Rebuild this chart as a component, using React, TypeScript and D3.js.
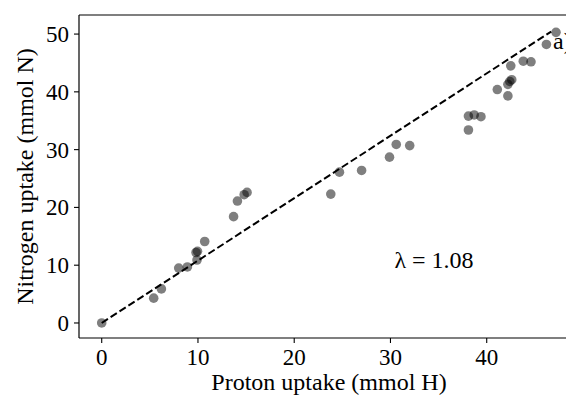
import React from "react";
import * as d3 from "d3";

const protonUptake = [0, 5.4, 6.2, 8.0, 8.9, 9.9, 9.8, 9.95, 10.7, 13.7, 14.1, 14.8, 15.1, 23.8, 24.7, 27.0, 29.9, 30.6, 32.0, 38.1, 38.1, 38.7, 39.4, 41.1, 42.2, 42.2, 42.4, 42.6, 42.5, 43.8, 44.6, 46.2, 47.2];
const nitrogenUptake = [0, 4.3, 5.9, 9.5, 9.7, 10.9, 12.2, 12.4, 14.1, 18.4, 21.1, 22.2, 22.6, 22.3, 26.1, 26.4, 28.7, 30.9, 30.7, 33.4, 35.8, 36.0, 35.7, 40.4, 39.3, 41.3, 41.8, 42.1, 44.5, 45.3, 45.2, 48.2, 50.3];
const xTicks = [0, 10, 20, 30, 40];
const yTicks = [0, 10, 20, 30, 40, 50];
const lambda = 1.08;
const lineEndX = 46.7;
const xLabel = "Proton uptake (mmol H)";
const yLabel = "Nitrogen uptake (mmol N)";
const annotation = "λ = 1.08";
const panelLabel = "a)";

export default function App() {
  const W = 566, H = 396;
  const left = 79, top = 15, bottom = 338;
  const x = d3.scaleLinear().domain([-2.36, 49.4]).range([left, left + 51.76 * 9.625]);
  const y = d3.scaleLinear().domain([-2.6, 53.3]).range([bottom, top]);
  const right = x(49.4);
  const font = "'Liberation Serif', 'Times New Roman', serif";
  const line = d3.line<number>().x((d) => x(d)).y((d) => y(lambda * d));
  return (
    <svg width={W} height={H} style={{ position: "absolute", left: 0, top: 0 }} fontFamily={font}>
      <rect width={W} height={H} fill="#fff" />
      {protonUptake.map((px, i) => (
        <circle key={i} cx={x(px)} cy={y(nitrogenUptake[i])} r={4.8} fill="#000" fillOpacity={0.5} />
      ))}
      <path d={line([0, lineEndX]) || ""} stroke="#000" strokeWidth={2} strokeDasharray="7.4,3.2" fill="none" />
      <text x={434} y={268} fontSize={24} textAnchor="middle">{annotation}</text>
      <text x={553} y={49} fontSize={24}>{panelLabel}</text>
      {/* spines */}
      <line x1={left} x2={left} y1={top} y2={bottom} stroke="#000" strokeWidth={1.2} />
      <line x1={left} x2={right} y1={bottom} y2={bottom} stroke="#000" strokeWidth={1.2} />
      <line x1={left} x2={right} y1={top} y2={top} stroke="#000" strokeWidth={1.2} />
      <line x1={right} x2={right} y1={top} y2={bottom} stroke="#000" strokeWidth={1.2} />
      {xTicks.map((t) => (
        <g key={t}>
          <line x1={x(t)} x2={x(t)} y1={bottom} y2={bottom + 5} stroke="#000" strokeWidth={1.1} />
          <text x={x(t)} y={bottom + 27} fontSize={23} textAnchor="middle">{t}</text>
        </g>
      ))}
      {yTicks.map((t) => (
        <g key={t}>
          <line x1={left - 5} x2={left} y1={y(t)} y2={y(t)} stroke="#000" strokeWidth={1.1} />
          <text x={left - 10} y={y(t) + 8} fontSize={23} textAnchor="end">{t}</text>
        </g>
      ))}
      <text x={329} y={390} fontSize={24} textAnchor="middle">{xLabel}</text>
      <text transform={`translate(33,${(top + bottom) / 2}) rotate(-90)`} fontSize={24} textAnchor="middle">{yLabel}</text>
    </svg>
  );
}
